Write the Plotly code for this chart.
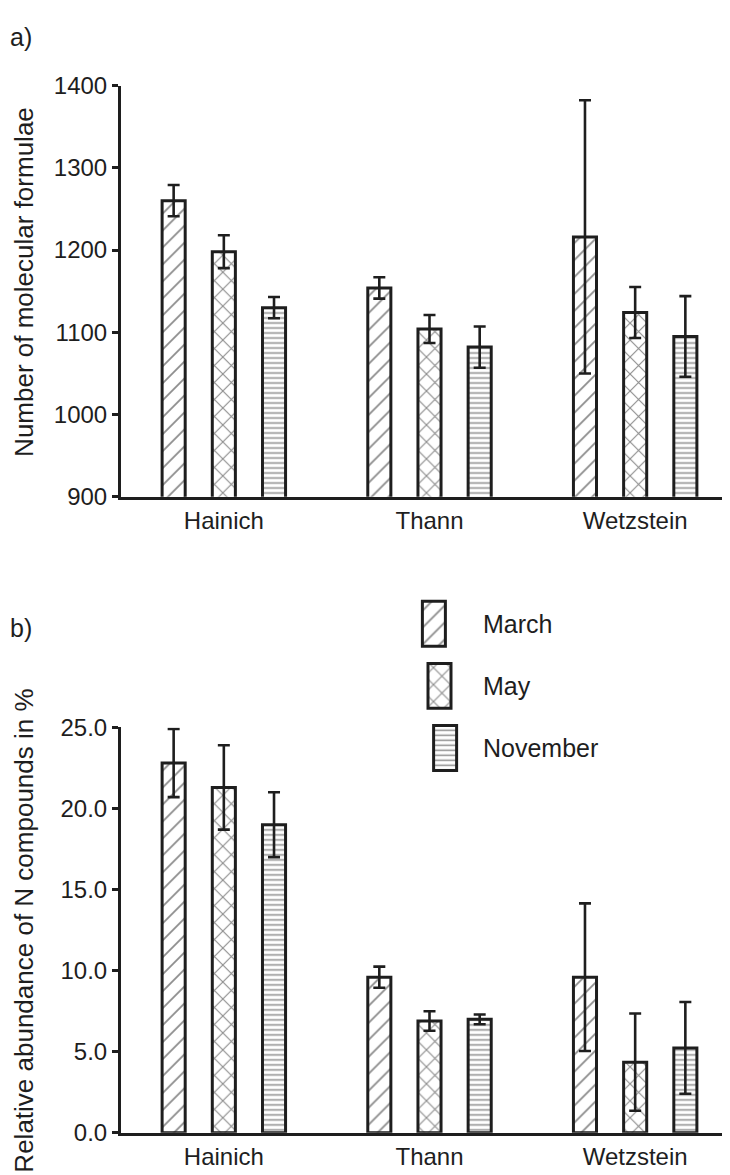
import plotly.graph_objects as go

# ---------------- data ----------------
sites = ["Hainich", "Thann", "Wetzstein"]
months = ["March", "May", "November"]

# a) number of molecular formulae (mean, error)
mf_march = [1260, 1154, 1216]
mf_march_err = [19, 13, 166]
mf_may = [1198, 1104, 1124]
mf_may_err = [20, 17, 31]
mf_nov = [1130, 1082, 1095]
mf_nov_err = [13, 25, 49]

# b) relative abundance of N compounds in % (mean, error)
n_march = [22.8, 9.6, 9.6]
n_march_err = [2.1, 0.65, 4.55]
n_may = [21.3, 6.9, 4.36]
n_may_err = [2.6, 0.6, 3.0]
n_nov = [19.0, 7.0, 5.24]
n_nov_err = [2.0, 0.3, 2.83]

y_ticks_a = [900, 1000, 1100, 1200, 1300, 1400]
y_ticks_b = [0, 5, 10, 15, 20, 25]

title_a = "Number of molecular formulae"
title_b = "Relative abundance of N compounds in %"

# ---------------- style ----------------
W, H = 730, 1175
INK = "#1e1e1e"
FONT = "Liberation Sans, Arial, sans-serif"
FS = 25
TFS = 24
TITLE_FS = 26

patterns = {
    "March": dict(shape="/", size=12, solidity=0.15, fgcolor="#1a1a1a", bgcolor="white"),
    "May": dict(shape="x", size=12, solidity=0.18, fgcolor="#1a1a1a", bgcolor="white"),
    "November": dict(shape="-", size=5, solidity=0.3, fgcolor="#1a1a1a", bgcolor="white"),
}

def px_x(p):
    return p / W

def px_y(p):
    return 1 - p / H

fig = go.Figure()

series_a = [(mf_march, mf_march_err), (mf_may, mf_may_err), (mf_nov, mf_nov_err)]
series_b = [(n_march, n_march_err), (n_may, n_may_err), (n_nov, n_nov_err)]

for m, (vals, errs) in zip(months, series_a):
    fig.add_trace(go.Bar(
        x=sites, y=vals, name=m, showlegend=False,
        xaxis="x", yaxis="y",
        marker=dict(color="white", line=dict(color=INK, width=3), pattern=patterns[m]),
        error_y=dict(type="data", array=errs, thickness=2.6, width=6, color=INK),
    ))

for m, (vals, errs) in zip(months, series_b):
    fig.add_trace(go.Bar(
        x=sites, y=vals, name=m, showlegend=False,
        xaxis="x2", yaxis="y2",
        marker=dict(color="white", line=dict(color=INK, width=3), pattern=patterns[m]),
        error_y=dict(type="data", array=errs, thickness=2.6, width=6, color=INK),
    ))

# legend swatches (tall boxes) drawn in a small inset axis
SW_H = 0.724      # swatch height as a fraction of the legend row pitch
PAD = 0.3         # padding (in row pitches) so outlines are not clipped
ROW_PX = 63.5
for i, m in enumerate(months):
    fig.add_trace(go.Bar(
        x=[0], y=[SW_H], base=[2 - i], width=[1], name=m, showlegend=False,
        xaxis="x3", yaxis="y3", hoverinfo="skip",
        marker=dict(color="white", line=dict(color=INK, width=3), pattern=patterns[m]),
    ))

common_x = dict(
    domain=[px_x(113), 1], showline=True, linewidth=3, linecolor=INK,
    ticks="", showgrid=False, zeroline=False, range=[-0.5, 2.5],
    tickfont=dict(size=TFS, color=INK, family=FONT),
)
common_y = dict(
    showline=True, linewidth=3, linecolor=INK, ticks="outside", ticklen=6,
    tickwidth=3, tickcolor=INK, showgrid=False, zeroline=False,
    tickfont=dict(size=TFS, color=INK, family=FONT),
)

pad_px = PAD * ROW_PX
fig.update_layout(
    width=W, height=H,
    margin=dict(l=0, r=0, t=0, b=0),
    paper_bgcolor="white", plot_bgcolor="white",
    font=dict(family=FONT, size=FS, color=INK),
    barmode="group", bargap=0.268, bargroupgap=0.54,
    showlegend=False,
    xaxis=dict(anchor="y", **common_x),
    yaxis=dict(anchor="x", domain=[px_y(486), px_y(65)], range=[900, 1400],
               tickvals=y_ticks_a, **common_y),
    xaxis2=dict(anchor="y2", **common_x),
    yaxis2=dict(anchor="x2", domain=[px_y(1137), px_y(722)], range=[0, 25],
                tickvals=y_ticks_b, tickformat=".1f", **common_y),
    xaxis3=dict(anchor="y3", domain=[px_x(420 - 11.5), px_x(443 + 11.5)], range=[-1, 1],
                visible=False, fixedrange=True),
    yaxis3=dict(anchor="x3", domain=[px_y(766 + pad_px), px_y(593 - pad_px)],
                range=[-PAD, 2 + SW_H + PAD], visible=False, fixedrange=True),
)

annotations = [
    dict(text="a)", x=0, y=px_y(15), xref="paper", yref="paper", xanchor="left",
         yanchor="middle", showarrow=False, font=dict(size=FS, color=INK, family=FONT)),
    dict(text="b)", x=0, y=px_y(620), xref="paper", yref="paper", xanchor="left",
         yanchor="middle", showarrow=False, font=dict(size=FS, color=INK, family=FONT)),
    dict(text=title_a, x=px_x(16), y=px_y(266), xref="paper", yref="paper",
         xanchor="center", yanchor="middle", textangle=-90, showarrow=False,
         font=dict(size=TITLE_FS, color=INK, family=FONT)),
    dict(text=title_b, x=px_x(16), y=px_y(930), xref="paper", yref="paper",
         xanchor="center", yanchor="middle", textangle=-90, showarrow=False,
         font=dict(size=TITLE_FS, color=INK, family=FONT)),
]
for i, m in enumerate(months):
    annotations.append(dict(
        text=m, x=px_x(473), y=(2 - i) + SW_H / 2, xref="paper", yref="y3",
        xanchor="left", yanchor="middle", showarrow=False,
        font=dict(size=FS, color=INK, family=FONT),
    ))
fig.update_layout(annotations=annotations)

fig.write_html("out.html")
